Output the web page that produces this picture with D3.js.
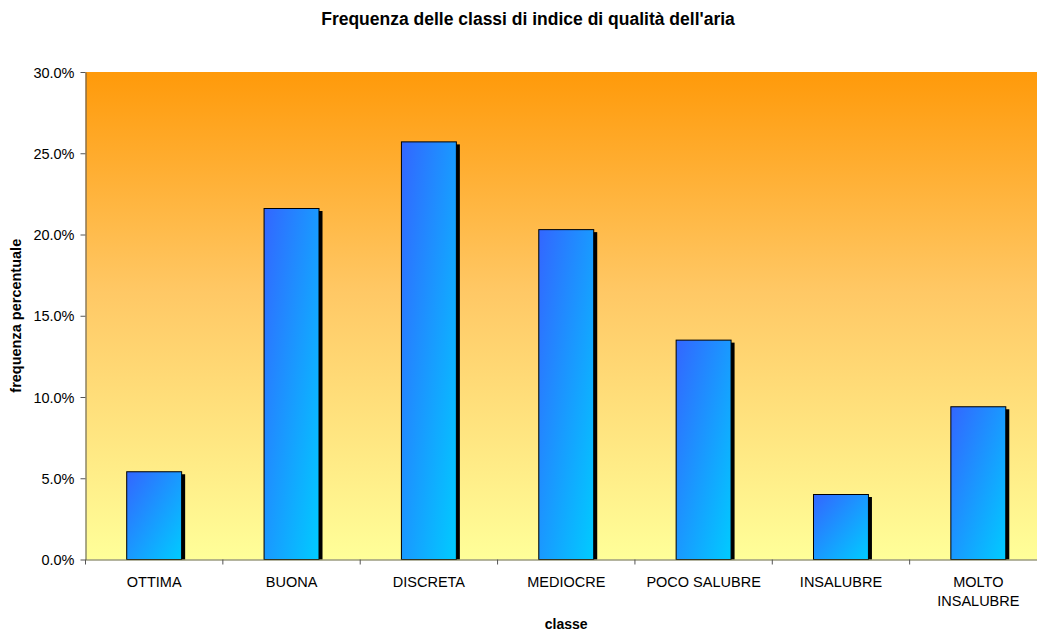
<!DOCTYPE html>
<html>
<head>
<meta charset="utf-8">
<script src="https://cdn.jsdelivr.net/npm/d3@7/dist/d3.min.js"></script>
<style>
    body { margin: 0; background: #fff; }
    svg { display: block; font-family: "Liberation Sans", Arial, sans-serif; }
</style>
</head>
<body>
<svg id="chart"></svg>
<script>
// classi di qualità dell'aria e frequenze percentuali
const categories = ["OTTIMA", "BUONA", "DISCRETA", "MEDIOCRE", "POCO SALUBRE", "INSALUBRE", "MOLTO INSALUBRE"];
const values = [0.054, 0.216, 0.257, 0.203, 0.135, 0.040, 0.094];
const yTicks = [0, 0.05, 0.10, 0.15, 0.20, 0.25, 0.30];

const width = 1037;
const height = 631;
const marginLeft = 85.5;
const plotRight = 1047;
const plotTop = 72;
const plotBottom = 559.5;

const svg = d3.select("#chart")
    .attr("width", width)
    .attr("height", height);

const defs = svg.append("defs");

const bg = defs.append("linearGradient")
    .attr("id", "bgGrad")
    .attr("x1", 0).attr("y1", 0).attr("x2", 0).attr("y2", 1);
bg.append("stop").attr("offset", "0%").attr("stop-color", "#ff9a0a");
bg.append("stop").attr("offset", "45%").attr("stop-color", "#ffc865");
bg.append("stop").attr("offset", "100%").attr("stop-color", "#ffff99");

const barGrad = defs.append("linearGradient")
    .attr("id", "barGrad")
    .attr("x1", 0).attr("y1", 0).attr("x2", 1).attr("y2", 1);
barGrad.append("stop").attr("offset", "0%").attr("stop-color", "#3366ff");
barGrad.append("stop").attr("offset", "100%").attr("stop-color", "#00ccff");

const x = d3.scaleBand()
    .domain(categories)
    .range([marginLeft, plotRight])
    .paddingInner(0.6)
    .paddingOuter(0.3);

const band = d3.scaleBand()
    .domain(categories)
    .range([marginLeft, plotRight]);

const y = d3.scaleLinear()
    .domain([0, 0.30])
    .range([plotBottom, plotTop]);

// sfondo dell'area del grafico
svg.append("rect")
    .attr("x", marginLeft)
    .attr("y", plotTop)
    .attr("width", plotRight - marginLeft)
    .attr("height", plotBottom - plotTop)
    .attr("fill", "url(#bgGrad)");

// ombre
svg.append("g").selectAll("rect")
    .data(values)
    .enter().append("rect")
    .attr("x", (d, i) => x(categories[i]) + 3.5)
    .attr("y", d => y(d) + 2.5)
    .attr("width", x.bandwidth())
    .attr("height", d => plotBottom - y(d) - 2.5)
    .attr("fill", "#000");

// barre
svg.append("g").selectAll("rect")
    .data(values)
    .enter().append("rect")
    .attr("x", (d, i) => x(categories[i]))
    .attr("y", d => y(d))
    .attr("width", x.bandwidth())
    .attr("height", d => plotBottom - y(d))
    .attr("fill", "url(#barGrad)")
    .attr("stroke", "#000")
    .attr("stroke-width", 1);

// asse y
const yAxis = svg.append("g")
    .attr("transform", `translate(${marginLeft},0)`)
    .call(d3.axisLeft(y).tickValues(yTicks).tickFormat(d3.format(".1%")).tickSizeInner(5).tickSizeOuter(0));
yAxis.select(".domain").attr("stroke", "#555");
yAxis.selectAll(".tick line").attr("stroke", "#555");
yAxis.selectAll("text")
    .attr("font-size", "14.5px")
    .attr("fill", "#000")
    .attr("font-family", "Liberation Sans, Arial, sans-serif")
    .attr("dy", "0.35em")
    .attr("x", -11);

// asse x
const xAxis = svg.append("g")
    .attr("transform", `translate(0,${plotBottom})`)
    .call(d3.axisBottom(band).tickSizeInner(0).tickSizeOuter(0));
xAxis.select(".domain").attr("stroke", "#6b6b40");
xAxis.selectAll(".tick line").remove();
xAxis.selectAll(".tick text").remove();

xAxis.selectAll(".sep")
    .data(categories)
    .enter().append("line")
    .attr("x1", d => band(d))
    .attr("x2", d => band(d))
    .attr("y1", 0)
    .attr("y2", 5)
    .attr("stroke", "#555");

const labels = xAxis.selectAll(".lab")
    .data(categories)
    .enter().append("text")
    .attr("x", d => band(d) + band.bandwidth() / 2)
    .attr("y", 27)
    .attr("text-anchor", "middle")
    .attr("font-size", "14.5px")
    .attr("fill", "#000");

labels.each(function (d)
{
    const parts = d === "MOLTO INSALUBRE" ? ["MOLTO", "INSALUBRE"] : [d];
    const t = d3.select(this);
    parts.forEach((p, i) =>
    {
        t.append("tspan")
            .attr("x", band(d) + band.bandwidth() / 2)
            .attr("dy", i === 0 ? 0 : 19)
            .text(p);
    });
});

// titoli
svg.append("text")
    .attr("x", 528)
    .attr("y", 25)
    .attr("text-anchor", "middle")
    .attr("font-size", "17.5px")
    .attr("font-weight", "bold")
    .text("Frequenza delle classi di indice di qualità dell'aria");

svg.append("text")
    .attr("transform", `translate(21,${(plotTop + plotBottom) / 2}) rotate(-90)`)
    .attr("text-anchor", "middle")
    .attr("font-size", "14.5px")
    .attr("font-weight", "bold")
    .text("frequenza percentuale");

svg.append("text")
    .attr("x", (marginLeft + plotRight) / 2)
    .attr("y", 629)
    .attr("text-anchor", "middle")
    .attr("font-size", "14px")
    .attr("font-weight", "bold")
    .text("classe");
</script>
</body>
</html>
